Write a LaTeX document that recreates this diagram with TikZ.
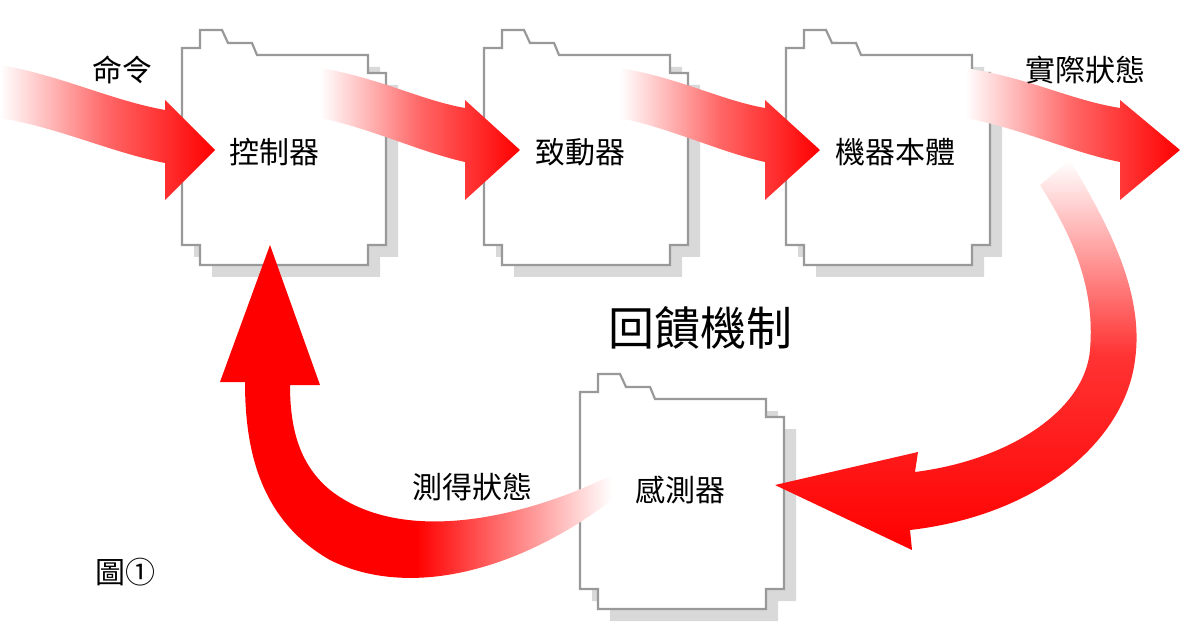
\documentclass[tikz,border=0pt]{standalone}
\usepackage{fontspec}
\newfontfamily\cjk{Noto Sans CJK TC}
\usetikzlibrary{shadings}
\def\boxpath{(0,197) -- (0,0) -- (18,0) -- (18,-18) -- (40,-18) -- (46,-5) -- (70,-5) -- (75,7) -- (186,7) -- (186,25) -- (204,25) -- (204,197) -- (186,197) -- (186,217) -- (18,217) -- (18,197) -- cycle}
\tikzset{
  boxshape/.pic={
    \fill[black!15,shift={(12,12)}] \boxpath;
    \filldraw[fill=white,draw=black!40,line width=2.2pt] \boxpath;
  },
  lbl/.style={font=\cjk\fontsize{30}{30}\selectfont, inner sep=0pt}
}
\begin{document}
\begin{tikzpicture}[x=1pt,y=-1pt]
\useasboundingbox[fill=white] (0,0) rectangle (1200,639);
\pic at (182,48) {boxshape};
\pic at (484,48) {boxshape};
\pic at (786,48) {boxshape};
\pic at (580,392) {boxshape};
% straight arrows
\shade[left color=white, right color=red, middle color=red!60] (0,65) .. controls (60,75) and (110,100) .. (165,110) -- (165,100) -- (215,150) -- (165,200) -- (165,163) .. controls (110,152) and (60,128) .. (0,118) -- cycle;
\shade[left color=white, right color=red, middle color=red!60] (320,68) .. controls (380,78) and (420,100) .. (465,108) -- (465,100) -- (520,150) -- (465,200) -- (465,162) .. controls (420,152) and (370,128) .. (320,118) -- cycle;
\shade[left color=white, right color=red, middle color=red!60] (620,68) .. controls (680,78) and (720,100) .. (765,108) -- (765,100) -- (820,150) -- (765,200) -- (765,162) .. controls (720,152) and (670,128) .. (620,118) -- cycle;
\shade[left color=white, right color=red, middle color=red!60] (965,68) .. controls (1030,78) and (1070,100) .. (1120,108) -- (1120,100) -- (1180,150) -- (1120,200) -- (1120,162) .. controls (1070,152) and (1020,128) .. (965,118) -- cycle;
% right curved arrow
\shade[top color=white, bottom color=red, middle color=red!80] (1070,160) .. controls (1105,220) and (1145,290) .. (1135,360) .. controls (1125,440) and (1040,515) .. (910,530) -- (912,550) -- (775,485) -- (918,452) -- (915,472) .. controls (1010,460) and (1085,410) .. (1090,350) .. controls (1095,290) and (1075,240) .. (1040,185) -- cycle;
% left curved arrow
\shade[left color=red, right color=white, middle color=red] (612,475) .. controls (520,520) and (400,545) .. (330,490) .. controls (300,465) and (290,430) .. (290,385) -- (320,385) -- (270,245) -- (220,382) -- (245,382) .. controls (245,450) and (260,520) .. (330,560) .. controls (410,600) and (520,570) .. (612,500) -- cycle;
% labels
\node[lbl] (cmd) at (122,70) {命令};
\node[lbl] (ctrl) at (274,152) {控制器};
\node[lbl] (act) at (580,152) {致動器};
\node[lbl] (plant) at (895,152) {機器本體};
\node[lbl] (state) at (1085,70) {實際狀態};
\node[font=\cjk\fontsize{46}{46}\selectfont, inner sep=0pt] (fb) at (700,328) {回饋機制};
\node[lbl] (meas) at (472,487) {測得狀態};
\node[lbl] (sens) at (680,490) {感測器};
\node[lbl] (fig) at (125,572) {圖①};
\end{tikzpicture}
\end{document}
